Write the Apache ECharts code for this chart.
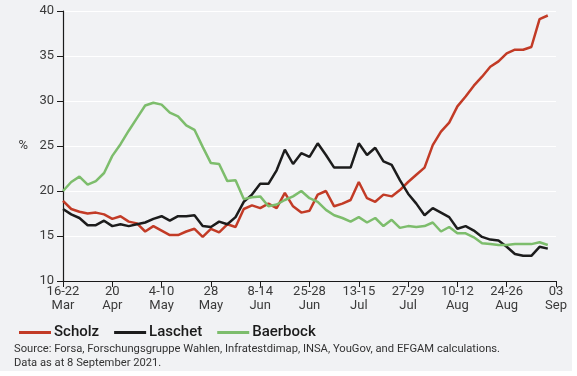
<!DOCTYPE html>
<html>
<head>
<meta charset="utf-8">
<script src="https://cdn.jsdelivr.net/npm/echarts@6/dist/echarts.min.js"></script>
<style>
  html, body { margin: 0; padding: 0; background: #ffffff; }
  .panel { position: absolute; left: 0; top: 0; width: 572px; height: 371px; background: #f1f2f4; }
  #chart { position: absolute; left: 0; top: 0; width: 577px; height: 376px; }
</style>
</head>
<body>
<div class="panel"></div>
<div id="chart"></div>
<script>
// x ticks every 6 polls
const tickLabels = ['16-22\nMar', '20\nApr', '4-10\nMay', '28\nMay', '8-14\nJun', '25-28\nJun',
  '13-15\nJul', '27-29\nJul', '10-12\nAug', '24-26\nAug', '03\nSep'];

const scholz = [18.9, 18.0, 17.7, 17.5, 17.6, 17.4, 16.9, 17.2, 16.6, 16.4,
  15.5, 16.1, 15.6, 15.1, 15.1, 15.5, 15.8, 14.9, 15.8, 15.4,
  16.3, 16.0, 18.0, 18.4, 18.1, 18.6, 18.1, 19.8, 18.3, 17.6,
  17.8, 19.6, 20.0, 18.3, 18.6, 19.0, 21.0, 19.2, 18.8, 19.6,
  19.4, 20.1, 21.0, 21.8, 22.6, 25.1, 26.6, 27.6, 29.4, 30.5,
  31.7, 32.7, 33.8, 34.4, 35.3, 35.7, 35.7, 36.0, 39.1, 39.5];

const laschet = [18.0, 17.4, 17.0, 16.2, 16.2, 16.7, 16.1, 16.3, 16.1, 16.3,
  16.5, 16.9, 17.2, 16.7, 17.2, 17.2, 17.3, 16.1, 16.0, 16.6,
  16.3, 17.1, 18.8, 19.6, 20.8, 20.8, 22.3, 24.6, 23.0, 24.2,
  23.8, 25.3, 24.0, 22.6, 22.6, 22.6, 25.3, 24.0, 24.8, 23.3,
  22.9, 21.2, 19.7, 18.6, 17.3, 18.1, 17.6, 17.1, 15.8, 16.1,
  15.6, 14.9, 14.6, 14.5, 13.8, 13.0, 12.8, 12.8, 13.8, 13.6];

const baerbock = [20.0, 21.0, 21.6, 20.7, 21.1, 22.0, 23.9, 25.2, 26.7, 28.1,
  29.5, 29.8, 29.6, 28.7, 28.3, 27.3, 26.8, 24.9, 23.1, 23.0,
  21.1, 21.2, 19.1, 19.3, 19.4, 18.3, 18.5, 19.0, 19.4, 20.0,
  19.2, 18.8, 17.9, 17.3, 17.0, 16.6, 17.1, 16.5, 17.0, 16.1,
  16.8, 15.9, 16.1, 16.0, 16.1, 16.5, 15.5, 16.0, 15.3, 15.3,
  14.85, 14.2, 14.1, 14.0, 14.0, 14.1, 14.1, 14.1, 14.3, 14.0];

const FONT = 'Roboto, "Noto Sans", sans-serif';
const toPairs = arr => arr.map((v, i) => [i, v]);

const chart = echarts.init(document.getElementById('chart'));
chart.setOption({
  animation: false,
  textStyle: { fontFamily: FONT },
  grid: { left: 63, right: 21, top: 11, bottom: 95, containLabel: false },
  xAxis: {
    type: 'value',
    min: 0,
    max: 60,
    interval: 6,
    axisLine: { lineStyle: { color: '#1a1a1a', width: 1.2 } },
    axisTick: { show: true, length: 6, lineStyle: { color: '#1a1a1a' } },
    splitLine: { show: false },
    axisLabel: {
      color: '#3a3a3a', fontSize: 13, lineHeight: 14, margin: 4,
      formatter: v => tickLabels[v / 6] || ''
    }
  },
  yAxis: {
    type: 'value',
    min: 10,
    max: 40,
    interval: 5,
    name: '%',
    nameLocation: 'middle',
    nameRotate: 0,
    nameGap: 35,
    nameTextStyle: { color: '#3a3a3a', fontSize: 13 },
    axisLine: { show: true, lineStyle: { color: '#1a1a1a', width: 1.2 } },
    axisTick: { show: true, length: 6, lineStyle: { color: '#1a1a1a' } },
    splitLine: { lineStyle: { color: '#ffffff', width: 1 } },
    axisLabel: { color: '#3a3a3a', fontSize: 13, margin: 9 }
  },
  legend: {
    left: 14,
    top: 320,
    icon: 'rect',
    itemWidth: 32,
    itemHeight: 3,
    itemGap: 15,
    textStyle: { color: '#1a1a1a', fontSize: 15, fontWeight: 500, padding: [0, 0, 0, -2] },
    data: ['Scholz', 'Laschet', 'Baerbock']
  },
  graphic: [
    { type: 'text', left: 14, top: 344,
      style: { text: 'Source: Forsa, Forschungsgruppe Wahlen, Infratestdimap, INSA, YouGov, and EFGAM calculations.',
        fill: '#333', font: '11.2px ' + FONT } },
    { type: 'text', left: 14, top: 358,
      style: { text: 'Data as at 8 September 2021.', fill: '#333', font: '11.2px ' + FONT } }
  ],
  series: [
    { name: 'Scholz', type: 'line', data: toPairs(scholz), showSymbol: false,
      itemStyle: { color: '#c23b26' }, lineStyle: { width: 2.5, color: '#c23b26' } },
    { name: 'Laschet', type: 'line', data: toPairs(laschet), showSymbol: false,
      itemStyle: { color: '#1c1c1c' }, lineStyle: { width: 2.5, color: '#1c1c1c' } },
    { name: 'Baerbock', type: 'line', data: toPairs(baerbock), showSymbol: false,
      itemStyle: { color: '#7dbd6c' }, lineStyle: { width: 2.5, color: '#7dbd6c' } }
  ]
});
</script>
</body>
</html>
